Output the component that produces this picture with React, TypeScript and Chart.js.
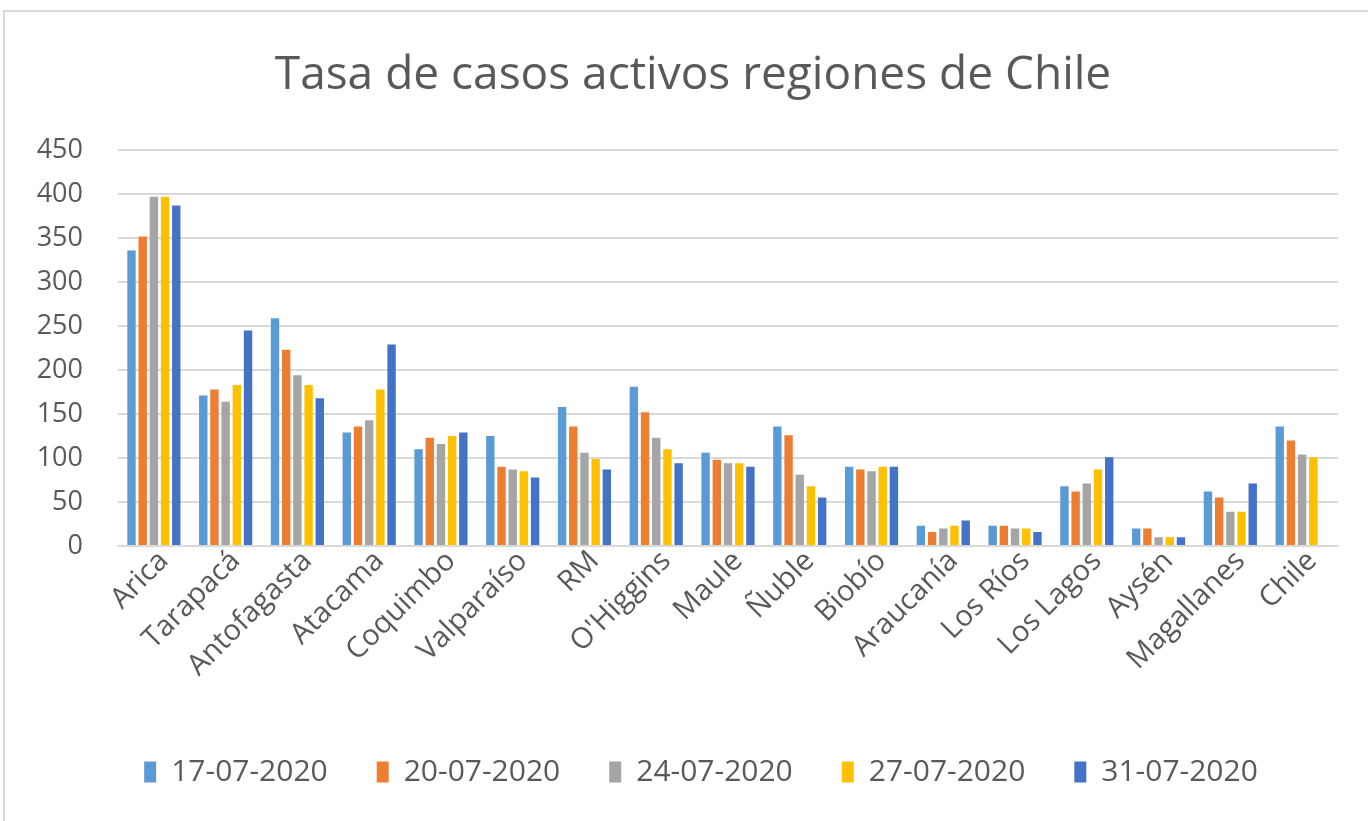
import React, { useEffect, useRef } from "react";
import { Chart, registerables } from "chart.js";

Chart.register(...registerables);

const categories = [
  "Arica", "Tarapacá", "Antofagasta", "Atacama", "Coquimbo", "Valparaíso", "RM",
  "O'Higgins", "Maule", "Ñuble", "Biobío", "Araucanía", "Los Ríos", "Los Lagos",
  "Aysén", "Magallanes", "Chile",
];

const seriesLabels = ["17-07-2020", "20-07-2020", "24-07-2020", "27-07-2020", "31-07-2020"];

const s17 = [336, 171, 259, 129, 110, 125, 158, 181, 106, 136, 90, 23, 23, 68, 20, 62, 136];
const s20 = [352, 178, 223, 136, 123, 90, 136, 152, 98, 126, 87, 16, 23, 62, 20, 55, 120];
const s24 = [397, 164, 194, 143, 116, 87, 106, 123, 94, 81, 85, 20, 20, 71, 10, 39, 104];
const s27 = [397, 183, 183, 178, 125, 85, 99, 110, 94, 68, 90, 23, 20, 87, 10, 39, 101];
const s31 = [387, 245, 168, 229, 129, 78, 87, 94, 90, 55, 90, 29, 16, 101, 10, 71, null];

const colors = ["#5B9BD5", "#ED7D31", "#A5A5A5", "#FFC000", "#4472C4"];
const yTicks = [0, 50, 100, 150, 200, 250, 300, 350, 400, 450];

const TEXT = "#595959";
const FONT = "'Open Sans', 'DejaVu Sans', sans-serif";

// Shift title and legend horizontally to match the original's centring
const centerShift = {
  id: "centerShift",
  afterLayout(chart: any) {
    if (chart.titleBlock) {
      chart.titleBlock.left = 48;
      chart.titleBlock.right = 1338;
    }
    if (chart.legend) {
      chart.legend.left = 64;
      chart.legend.right = 1338;
    }
  },
};

export default function App() {
  const ref = useRef<HTMLCanvasElement | null>(null);

  useEffect(() => {
    if (!ref.current) return;
    const values = [s17, s20, s24, s27, s31];
    const chart = new Chart(ref.current, {
      type: "bar",
      data: {
        labels: categories,
        datasets: seriesLabels.map((label, i) => ({
          label,
          data: values[i],
          backgroundColor: colors[i],
          borderWidth: 0,
          categoryPercentage: 0.78,
          barPercentage: 0.75,
        })),
      },
      plugins: [centerShift],
      options: {
        animation: false,
        responsive: false,
        maintainAspectRatio: false,
        layout: { padding: { left: 10, right: 30, top: 0, bottom: 24 } },
        plugins: {
          title: {
            display: true,
            text: "Tasa de casos activos regiones de Chile",
            color: TEXT,
            font: { family: FONT, size: 46, weight: "normal" },
            padding: { top: 48, bottom: 47 },
          },
          legend: {
            position: "bottom",
            labels: {
              color: TEXT,
              font: { family: FONT, size: 30 },
              boxWidth: 12,
              boxHeight: 21,
              padding: 49,
            },
          },
          tooltip: { enabled: false },
        },
        scales: {
          x: {
            grid: { display: false },
            border: { color: "#d9d9d9", width: 2 },
            ticks: {
              color: TEXT,
              font: { family: FONT, size: 29 },
              maxRotation: 45,
              minRotation: 45,
              autoSkip: false,
              padding: -10,
              labelOffset: 10,
            },
            afterFit: (scale: any) => {
              scale.height = 162;
            },
          },
          y: {
            min: 0,
            max: 450,
            afterBuildTicks: (scale: any) => {
              scale.ticks = yTicks.map((v) => ({ value: v }));
            },
            grid: { color: "#d9d9d9", lineWidth: 2, drawTicks: false },
            border: { display: false },
            ticks: {
              color: TEXT,
              font: { family: FONT, size: 27 },
              padding: 35,
            },
            afterFit: (scale: any) => {
              scale.width = 108;
            },
          },
        },
      },
    });
    return () => chart.destroy();
  }, []);

  return (
    <div style={{ position: "fixed", left: 0, top: 0, width: 1368, height: 821, background: "#ffffff" }}>
      <div
        style={{
          position: "absolute",
          left: 3,
          top: 10,
          right: 0,
          bottom: 0,
          borderTop: "2px solid #d9d9d9",
          borderLeft: "2px solid #d9d9d9",
        }}
      />
      <canvas ref={ref} width={1368} height={821} style={{ position: "absolute", left: 0, top: 0 }} />
    </div>
  );
}
